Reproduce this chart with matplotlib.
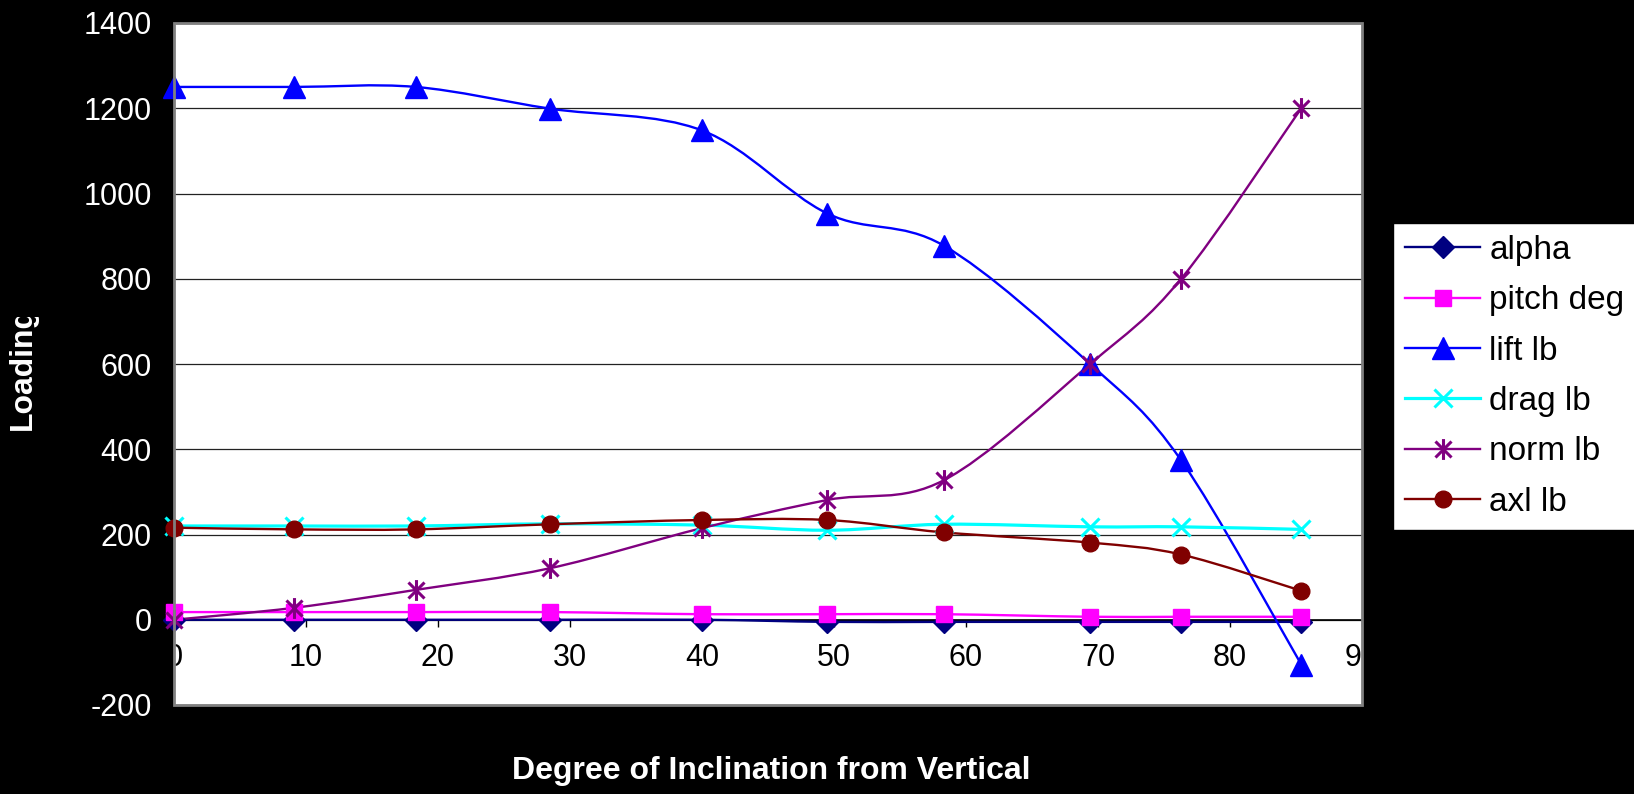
import numpy as np
import matplotlib
matplotlib.use("Agg")
import matplotlib.pyplot as plt
from matplotlib.path import Path
from matplotlib.patches import PathPatch, Rectangle
from matplotlib.lines import Line2D
from matplotlib.transforms import Bbox, TransformedBbox

# ---------------- data ----------------
inclination = [0, 9.1, 18.3, 28.5, 40.0, 49.5, 58.3, 69.4, 76.3, 85.4]
alpha = [0, 0, 0, 0, 0, -5, -5, -5, -5, -5]
pitch_deg = [18, 18, 18, 18, 13, 13, 13, 7, 7, 7]
lift_lb = [1250, 1250, 1250, 1199, 1148, 953, 878, 600, 374, -105]
drag_lb = [220, 220, 220, 225, 222, 210, 224, 218, 218, 212]
norm_lb = [0, 28, 70, 121, 215, 281, 327, 600, 800, 1200]
axl_lb = [216, 212, 212, 224, 234, 234, 205, 181, 153, 68]

series_names = ["alpha", "pitch deg", "lift lb", "drag lb", "norm lb", "axl lb"]
series_values = [alpha, pitch_deg, lift_lb, drag_lb, norm_lb, axl_lb]

y_ticks = [-200, 0, 200, 400, 600, 800, 1000, 1200, 1400]
x_ticks = [0, 10, 20, 30, 40, 50, 60, 70, 80, 90]

# ---------------- styles ----------------
star = Path([(-1, -1), (1, 1), (-1, 1), (1, -1), (0, -1.3), (0, 1.3)],
            [Path.MOVETO, Path.LINETO, Path.MOVETO, Path.LINETO, Path.MOVETO, Path.LINETO])
styles = [
    dict(color="#000080", marker="D", ms=11, lw=1.7, mfc="#000080", mec="#000080", mew=1),
    dict(color="#FF00FF", marker="s", ms=11.5, lw=1.7, mfc="#FF00FF", mec="#FF00FF", mew=1),
    dict(color="#0000FF", marker="^", ms=15.5, lw=1.7, mfc="#0000FF", mec="#0000FF", mew=1),
    dict(color="#00FFFF", marker="x", ms=13, lw=2.3, mfc="none", mec="#00FFFF", mew=2.2),
    dict(color="#800080", marker=star, ms=15, lw=1.7, mfc="none", mec="#800080", mew=2.2),
    dict(color="#800000", marker="o", ms=12, lw=1.7, mfc="#800000", mec="#800000", mew=1),
]

plt.rcParams["font.family"] = ["Liberation Sans", "DejaVu Sans"]
plt.rcParams["axes.unicode_minus"] = False


def excel_smooth_path(xs, ys):
    P = np.column_stack([xs, ys]).astype(float)
    n = len(P)
    verts = [P[0]]
    codes = [Path.MOVETO]
    for i in range(n - 1):
        p_prev = P[i - 1] if i > 0 else P[i]
        p_next2 = P[i + 2] if i + 2 < n else P[i + 1]
        c1 = P[i] + (P[i + 1] - p_prev) / 6.0
        c2 = P[i + 1] - (p_next2 - P[i]) / 6.0
        verts += [c1, c2, P[i + 1]]
        codes += [Path.CURVE4] * 3
    return Path(verts, codes)


W, H = 1634, 794
fig = plt.figure(figsize=(W / 100, H / 100), dpi=100, facecolor="black")
L, R, T, B = 174, 1362, 23, 705
ax = fig.add_axes([L / W, 1 - B / H, (R - L) / W, (B - T) / H])
ax.set_facecolor("white")
ax.set_xlim(0, 90)
ax.set_ylim(-200, 1400)

# gridlines
ax.set_yticks(y_ticks)
ax.yaxis.grid(True, color="#222222", lw=0.9)
ax.set_axisbelow(True)

# spines: frame gray, bottom axis moved to y=0
for s in ["left", "right", "top"]:
    ax.spines[s].set_visible(False)
ax.spines["bottom"].set_position(("data", 0))
ax.spines["bottom"].set_color("black")
ax.spines["bottom"].set_linewidth(1.2)
frame = Rectangle((0, 0), 1, 1, transform=ax.transAxes, fill=False,
                  edgecolor="#808080", lw=2.0, clip_on=False, zorder=5)
ax.add_patch(frame)

ax.set_xticks(x_ticks)
ax.tick_params(axis="x", direction="out", length=5, width=1, color="black",
               labelcolor="black", labelsize=22, pad=12)
ax.tick_params(axis="y", length=0, labelcolor="white", labelsize=22, pad=16)

for i, (name, vals, st) in enumerate(zip(series_names, series_values, styles)):
    path = excel_smooth_path(inclination, vals)
    ax.add_patch(PathPatch(path, facecolor="none", edgecolor=st["color"],
                           lw=st["lw"], zorder=3 + i * 0.1, capstyle="round",
                           joinstyle="round"))
for i, (name, vals, st) in enumerate(zip(series_names, series_values, styles)):
    ax.plot(inclination, vals, linestyle="none", marker=st["marker"], ms=st["ms"],
            mfc=st["mfc"], mec=st["mec"], mew=st["mew"], zorder=4 + i * 0.1,
            clip_on=False)

# legend
handles = [Line2D([0], [0], color=st["color"], lw=st["lw"], marker=st["marker"],
                  ms=st["ms"], mfc=st["mfc"], mec=st["mec"], mew=st["mew"])
           for st in styles]
leg = fig.legend(handles, series_names, loc="upper left",
                 bbox_to_anchor=(1393 / W, 1 - 223 / H), bbox_transform=fig.transFigure,
                 fontsize=24, frameon=True, fancybox=False, framealpha=1,
                 facecolor="white", edgecolor="black", borderaxespad=0,
                 handlelength=2.25, handletextpad=0.28, labelspacing=0.58,
                 borderpad=0.36)
leg.get_frame().set_linewidth(1.0)

# axis labels
fig.text(771 / W, 1 - 771 / H, "Degree of Inclination from Vertical", color="white",
         fontsize=23, fontweight="bold", ha="center", va="center")
t = fig.text(23 / W, 1 - 368 / H, "Loading", color="white", fontsize=23,
             fontweight="bold", rotation=90, ha="center", va="center")
t.set_clip_box(TransformedBbox(Bbox([[0, 0], [1, 1 - 317 / H]]), fig.transFigure))
t.set_clip_on(True)

fig.savefig("out.png", dpi=100, facecolor="black")
